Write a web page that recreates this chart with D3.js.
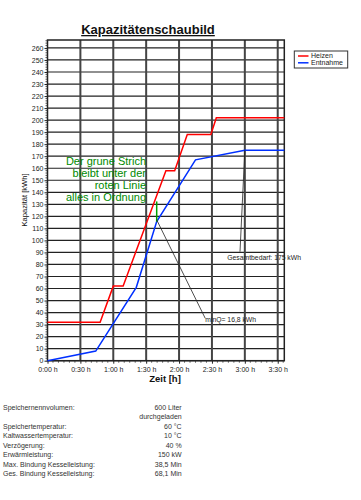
<!DOCTYPE html>
<html>
<head>
<meta charset="utf-8">
<script src="https://cdn.jsdelivr.net/npm/d3@7"></script>
<style>
  html, body { margin: 0; padding: 0; background: #fff; }
  svg { display: block; font-family: "Liberation Sans", Arial, sans-serif; }
</style>
</head>
<body>
<svg id="chart" width="361" height="500"></svg>
<script>
// ---- data ----
const xTicks = [0, 30, 60, 90, 120, 150, 180, 210];           // minutes
const xTickLabels = ["0:00 h", "0:30 h", "1:00 h", "1:30 h", "2:00 h", "2:30 h", "3:00 h", "3:30 h"];
const yTicks = d3.range(0, 261, 10);

const heizenT = [0, 48, 60, 69, 108, 116, 127.5, 149, 154, 216];
const heizenV = [32, 32, 62, 62, 158, 158, 188, 188, 202, 202];
const entnahmeT = [0, 44, 81, 99.6, 135, 180, 216];
const entnahmeV = [0, 8, 61, 115.6, 167, 175, 175];

const minT = 99.6;          // time of minimum gap
const minQ = 16.8;          // kWh
const gesamtT = 180;        // time when total demand reached
const gesamt = 175;         // kWh

const noteLines = ["Der grune Strich", "bleibt unter der", "roten Linie", "alles in Ordnung"];

const infoLabels = ["Speichernennvolumen:", "", "Speichertemperatur:", "Kaltwassertemperatur:", "Verzögerung:", "Erwärmleistung:", "Max. Bindung Kesselleistung:", "Ges. Bindung Kesselleistung:"];
const infoValues = ["600 Liter", "durchgeladen", "60 °C", "10 °C", "40 %", "150 kW", "38,5 Min", "68,1 Min"];

const seriesNames = ["Heizen", "Entnahme"];
const seriesColors = ["#ff0000", "#0030ff"];

// ---- layout ----
const svg = d3.select("#chart");
const pLeft = 47.5, pRight = 284.3, pTop = 40, pBottom = 360.7;
const x = d3.scaleLinear().domain([0, 216]).range([pLeft, pRight]);
const y = d3.scaleLinear().domain([0, 266.6]).range([pBottom, pTop]);

// title
svg.append("text").attr("x", 148).attr("y", 34).attr("text-anchor", "middle")
  .attr("font-size", 13).attr("font-weight", "bold").attr("text-decoration", "underline")
  .attr("fill", "#111").text("Kapazitätenschaubild");

// horizontal grid
svg.append("g").selectAll("line").data(yTicks).join("line")
  .attr("x1", pLeft).attr("x2", pRight)
  .attr("y1", d => y(d)).attr("y2", d => y(d))
  .attr("stroke", "#222").attr("stroke-width", 1.2);

// vertical grid
svg.append("g").selectAll("line").data(xTicks.slice(1)).join("line")
  .attr("x1", d => x(d)).attr("x2", d => x(d))
  .attr("y1", pTop).attr("y2", pBottom)
  .attr("stroke", "#444").attr("stroke-width", 2);

// frame
svg.append("rect").attr("x", pLeft).attr("y", pTop).attr("width", pRight - pLeft).attr("height", pBottom - pTop)
  .attr("fill", "none").attr("stroke", "#222").attr("stroke-width", 1.5);

// y axis
const yAxis = d3.axisLeft(y).tickValues(yTicks).tickSize(3).tickPadding(1).tickFormat(d3.format("d"));
const gy = svg.append("g").attr("transform", `translate(${pLeft},0)`).call(yAxis);
gy.select(".domain").remove();
gy.selectAll("text").attr("font-size", 7).attr("fill", "#222").attr("font-family", "Liberation Sans, Arial, sans-serif");
gy.selectAll("line").attr("stroke", "#222");
// y minor ticks
const yMinor = d3.range(0, 267, 2).filter(d => d % 10 !== 0);
svg.append("g").selectAll("line").data(yMinor).join("line")
  .attr("x1", pLeft - 2).attr("x2", pLeft).attr("y1", d => y(d)).attr("y2", d => y(d))
  .attr("stroke", "#333").attr("stroke-width", 0.8);

// x axis
const xAxis = d3.axisBottom(x).tickValues(xTicks).tickSize(3).tickPadding(3)
  .tickFormat((d, i) => xTickLabels[i]);
const gx = svg.append("g").attr("transform", `translate(0,${pBottom})`).call(xAxis);
gx.select(".domain").remove();
gx.selectAll("text").attr("font-size", 7).attr("fill", "#222").attr("font-family", "Liberation Sans, Arial, sans-serif");
gx.selectAll("line").attr("stroke", "#222");
const xMinor = d3.range(0, 217, 5).filter(d => d % 30 !== 0);
svg.append("g").selectAll("line").data(xMinor).join("line")
  .attr("x1", d => x(d)).attr("x2", d => x(d)).attr("y1", pBottom).attr("y2", pBottom + 2)
  .attr("stroke", "#333").attr("stroke-width", 0.8);

// axis titles
svg.append("text").attr("x", 165).attr("y", 382).attr("text-anchor", "middle")
  .attr("font-size", 9.5).attr("font-weight", "bold").attr("fill", "#111").text("Zeit [h]");
svg.append("text").attr("transform", "translate(27,200) rotate(-90)").attr("text-anchor", "middle")
  .attr("font-size", 7.6).attr("fill", "#111").text("Kapazität [kWh]");

// series lines
const line = d3.line().x(d => x(d[0])).y(d => y(d[1]));
const heizen = heizenT.map((t, i) => [t, heizenV[i]]);
const entnahme = entnahmeT.map((t, i) => [t, entnahmeV[i]]);
svg.append("path").datum(heizen).attr("d", line).attr("fill", "none")
  .attr("stroke", seriesColors[0]).attr("stroke-width", 1.5);
svg.append("path").datum(entnahme).attr("d", line).attr("fill", "none")
  .attr("stroke", seriesColors[1]).attr("stroke-width", 1.5);

// green min line
const blueAtMin = d3.scaleLinear().domain(entnahmeT).range(entnahmeV)(minT);
svg.append("line").attr("x1", x(minT)).attr("x2", x(minT))
  .attr("y1", y(blueAtMin)).attr("y2", y(blueAtMin + minQ))
  .attr("stroke", "#00a000").attr("stroke-width", 1.5);

// annotations
svg.append("line").attr("x1", x(minT)).attr("y1", y(blueAtMin + 1.5))
  .attr("x2", x(143.9)).attr("y2", y(35.2)).attr("stroke", "#222").attr("stroke-width", 0.8);
svg.append("text").attr("x", x(143.9)).attr("y", y(32.5)).attr("font-size", 6.8).attr("fill", "#222")
  .text("minQ= " + String(minQ).replace(".", ",") + " kWh");
svg.append("line").attr("x1", x(gesamtT)).attr("y1", y(gesamt))
  .attr("x2", x(175.6)).attr("y2", y(90.6)).attr("stroke", "#222").attr("stroke-width", 0.8);
svg.append("text").attr("x", x(164)).attr("y", y(83.5)).attr("font-size", 6.8).attr("fill", "#222")
  .text("Gesamtbedarf: " + gesamt + " kWh");

// green note
svg.append("g").selectAll("text").data(noteLines).join("text")
  .attr("x", 146).attr("y", (d, i) => 165 + i * 12).attr("text-anchor", "end")
  .attr("font-size", 11).attr("fill", "#008a00").text(d => d);

// legend
const lg = svg.append("g");
lg.append("rect").attr("x", 294.3).attr("y", 51).attr("width", 53.4).attr("height", 17)
  .attr("fill", "#fff").attr("stroke", "#333").attr("stroke-width", 1);
seriesNames.forEach((n, i) => {
  const yy = 56 + i * 6.8;
  lg.append("line").attr("x1", 298).attr("x2", 308.5).attr("y1", yy).attr("y2", yy)
    .attr("stroke", seriesColors[i]).attr("stroke-width", 1.5);
  lg.append("text").attr("x", 311).attr("y", yy + 2.4).attr("font-size", 7).attr("fill", "#222").text(n);
});

// info block
const rowY = [409.5, 419, 428.5, 438, 447.5, 457, 466.5, 476];
svg.append("g").selectAll("text").data(infoLabels).join("text")
  .attr("x", 3).attr("y", (d, i) => rowY[i]).attr("font-size", 7).attr("fill", "#333").text(d => d);
svg.append("g").selectAll("text").data(infoValues).join("text")
  .attr("x", 181.7).attr("y", (d, i) => rowY[i]).attr("text-anchor", "end")
  .attr("font-size", 7).attr("fill", "#333").text(d => d);
</script>
</body>
</html>
